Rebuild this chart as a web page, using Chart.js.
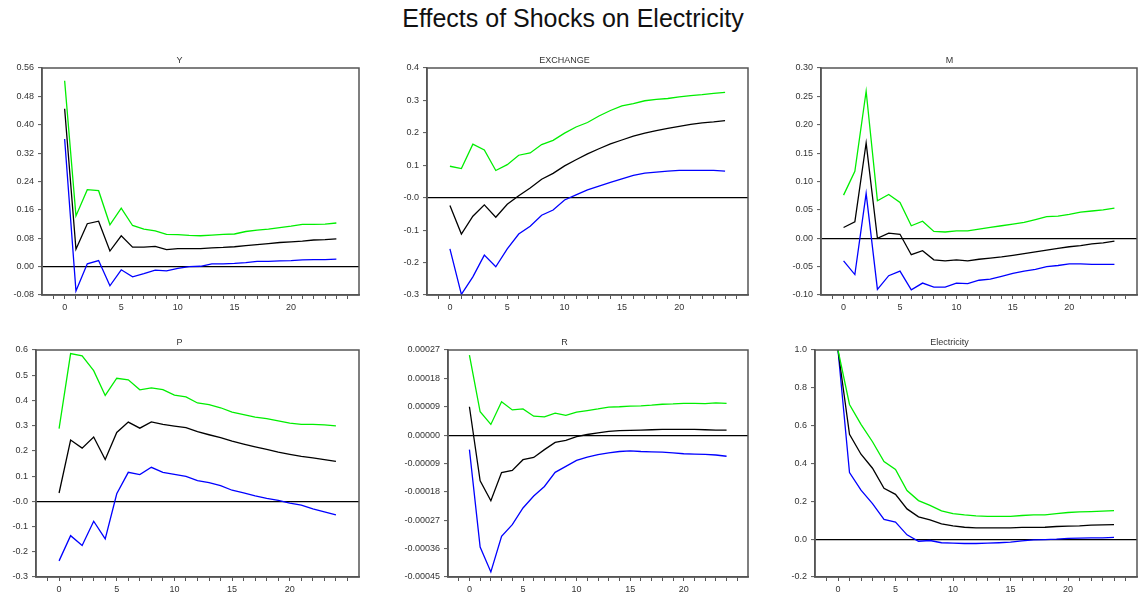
<!DOCTYPE html>
<html>
<head>
<meta charset="utf-8">
<script src="https://cdn.jsdelivr.net/npm/chart.js@4"></script>
<style>
  body { margin: 0; background: #fff; width: 1143px; height: 597px; position: relative; overflow: hidden; }
  #title { position: absolute; left: 0; width: 1146px; top: 6px; line-height: 25px; text-align: center; font-family: "Liberation Sans", Arial, sans-serif; font-size: 25px; color: #111; }
  canvas { position: absolute; }
</style>
</head>
<body>
<div id="title">Effects of Shocks on Electricity</div>
<canvas id="c0" width="361" height="265" style="left:0px;top:50px"></canvas>
<canvas id="c1" width="369" height="265" style="left:381px;top:50px"></canvas>
<canvas id="c2" width="377" height="265" style="left:762px;top:50px"></canvas>
<canvas id="c3" width="361" height="265" style="left:0px;top:332px"></canvas>
<canvas id="c4" width="369" height="265" style="left:381px;top:332px"></canvas>
<canvas id="c5" width="377" height="265" style="left:762px;top:332px"></canvas>
<script>
//? horizon 0..24
const steps = [0,1,2,3,4,5,6,7,8,9,10,11,12,13,14,15,16,17,18,19,20,21,22,23,24]
const xTicks = [-1,0,1,2,3,4,5,6,7,8,9,10,11,12,13,14,15,16,17,18,19,20,21,22,23,24,25]
const xLabels = [0,5,10,15,20]

//? Y
const yUpper = [0.524,0.143,0.217,0.214,0.118,0.165,0.116,0.106,0.101,0.091,0.090,0.088,0.087,0.089,0.091,0.092,0.099,0.103,0.106,0.110,0.114,0.119,0.119,0.120,0.123]
const yMid   = [0.445,0.049,0.121,0.128,0.044,0.087,0.055,0.055,0.057,0.048,0.051,0.051,0.051,0.053,0.054,0.056,0.059,0.062,0.065,0.068,0.070,0.072,0.075,0.076,0.078]
const yLower = [0.360,-0.069,0.008,0.017,-0.054,-0.009,-0.029,-0.020,-0.010,-0.012,-0.005,0.000,0.001,0.008,0.008,0.009,0.011,0.015,0.015,0.016,0.017,0.019,0.020,0.020,0.021]
const yTicks = [-0.08,0,0.08,0.16,0.24,0.32,0.40,0.48,0.56]
const yTickLabels = ['-0.08','0.00','0.08','0.16','0.24','0.32','0.40','0.48','0.56']

//? EXCHANGE
const exUpper = [0.097,0.090,0.165,0.147,0.084,0.102,0.131,0.138,0.164,0.177,0.199,0.218,0.232,0.252,0.269,0.283,0.290,0.299,0.303,0.306,0.311,0.315,0.318,0.322,0.325]
const exMid   = [-0.024,-0.112,-0.057,-0.022,-0.060,-0.020,0.006,0.030,0.057,0.075,0.098,0.117,0.135,0.151,0.166,0.178,0.190,0.199,0.207,0.214,0.220,0.226,0.231,0.234,0.238]
const exLower = [-0.158,-0.298,-0.244,-0.177,-0.213,-0.158,-0.112,-0.088,-0.054,-0.038,-0.007,0.009,0.024,0.036,0.047,0.058,0.069,0.076,0.079,0.082,0.084,0.084,0.084,0.084,0.082]
const exTicks = [-0.3,-0.2,-0.1,0,0.1,0.2,0.3,0.4]
const exTickLabels = ['-0.3','-0.2','-0.1','-0.0','0.1','0.2','0.3','0.4']

//? M
const mUpper = [0.076,0.118,0.259,0.066,0.077,0.063,0.022,0.030,0.012,0.011,0.013,0.013,0.016,0.019,0.022,0.025,0.028,0.033,0.038,0.039,0.042,0.046,0.048,0.050,0.053]
const mMid   = [0.019,0.029,0.168,0.000,0.009,0.007,-0.029,-0.022,-0.038,-0.040,-0.038,-0.040,-0.037,-0.035,-0.033,-0.030,-0.027,-0.024,-0.021,-0.018,-0.015,-0.013,-0.010,-0.008,-0.005]
const mLower = [-0.040,-0.064,0.079,-0.090,-0.066,-0.058,-0.091,-0.079,-0.086,-0.086,-0.079,-0.080,-0.074,-0.072,-0.067,-0.062,-0.058,-0.055,-0.050,-0.048,-0.045,-0.045,-0.046,-0.046,-0.046]
const mTicks = [-0.10,-0.05,0,0.05,0.10,0.15,0.20,0.25,0.30]
const mTickLabels = ['-0.10','-0.05','0.00','0.05','0.10','0.15','0.20','0.25','0.30']

//? P
const pUpper = [0.288,0.586,0.577,0.518,0.420,0.488,0.482,0.442,0.450,0.443,0.421,0.414,0.390,0.383,0.371,0.354,0.344,0.334,0.328,0.319,0.310,0.305,0.305,0.303,0.299]
const pMid   = [0.033,0.243,0.211,0.255,0.166,0.273,0.314,0.290,0.315,0.305,0.298,0.292,0.276,0.264,0.253,0.239,0.227,0.216,0.206,0.195,0.186,0.178,0.172,0.165,0.158]
const pLower = [-0.236,-0.136,-0.175,-0.079,-0.149,0.030,0.115,0.106,0.135,0.115,0.107,0.099,0.082,0.074,0.062,0.044,0.034,0.022,0.012,0.004,-0.007,-0.015,-0.030,-0.042,-0.054]
const pTicks = [-0.3,-0.2,-0.1,0,0.1,0.2,0.3,0.4,0.5,0.6]
const pTickLabels = ['-0.3','-0.2','-0.1','-0.0','0.1','0.2','0.3','0.4','0.5','0.6']

//? R
const rUpper = [0.000254,0.000074,0.000034,0.000106,0.000080,0.000083,0.000060,0.000058,0.000070,0.000063,0.000073,0.000078,0.000083,0.000089,0.000090,0.000092,0.000093,0.000095,0.000098,0.000099,0.000101,0.000101,0.000100,0.000102,0.000101]
const rMid   = [0.000090,-0.000145,-0.000208,-0.000119,-0.000112,-0.000078,-0.000071,-0.000046,-0.000023,-0.000017,-0.000005,0.000002,0.000007,0.000012,0.000014,0.000015,0.000016,0.000017,0.000018,0.000018,0.000018,0.000018,0.000017,0.000016,0.000016]
const rLower = [-0.000046,-0.000355,-0.000434,-0.000321,-0.000284,-0.000231,-0.000193,-0.000163,-0.000118,-0.000099,-0.000080,-0.000070,-0.000062,-0.000056,-0.000052,-0.000050,-0.000052,-0.000053,-0.000054,-0.000056,-0.000059,-0.000060,-0.000061,-0.000063,-0.000067]
const rTicks = [-0.00045,-0.00036,-0.00027,-0.00018,-0.00009,0,0.00009,0.00018,0.00027]
const rTickLabels = ['-0.00045','-0.00036','-0.00027','-0.00018','-0.00009','0.00000','0.00009','0.00018','0.00027']

//? Electricity
const elUpper = [1.0,0.712,0.607,0.515,0.410,0.368,0.257,0.204,0.179,0.150,0.135,0.128,0.123,0.121,0.120,0.121,0.125,0.128,0.128,0.135,0.141,0.144,0.146,0.148,0.151]
const elMid   = [1.0,0.554,0.449,0.375,0.269,0.237,0.160,0.118,0.102,0.081,0.070,0.063,0.060,0.060,0.060,0.060,0.062,0.062,0.063,0.067,0.069,0.070,0.074,0.076,0.077]
const elLower = [1.0,0.352,0.259,0.188,0.104,0.090,0.023,-0.011,-0.007,-0.019,-0.021,-0.023,-0.023,-0.021,-0.019,-0.016,-0.009,-0.004,-0.002,0.000,0.004,0.005,0.007,0.007,0.009]
const elTicks = [-0.2,0,0.2,0.4,0.6,0.8,1.0]
const elTickLabels = ['-0.2','0.0','0.2','0.4','0.6','0.8','1.0']

const panels = [
  { id: 'c0', name: 'Y',           upper: yUpper,  mid: yMid,  lower: yLower,  ticks: yTicks,  labels: yTickLabels,  axisW: 42 },
  { id: 'c1', name: 'EXCHANGE',    upper: exUpper, mid: exMid, lower: exLower, ticks: exTicks, labels: exTickLabels, axisW: 46 },
  { id: 'c2', name: 'M',           upper: mUpper,  mid: mMid,  lower: mLower,  ticks: mTicks,  labels: mTickLabels,  axisW: 59 },
  { id: 'c3', name: 'P',           upper: pUpper,  mid: pMid,  lower: pLower,  ticks: pTicks,  labels: pTickLabels,  axisW: 36 },
  { id: 'c4', name: 'R',           upper: rUpper,  mid: rMid,  lower: rLower,  ticks: rTicks,  labels: rTickLabels,  axisW: 67 },
  { id: 'c5', name: 'Electricity', upper: elUpper, mid: elMid, lower: elLower, ticks: elTicks, labels: elTickLabels, axisW: 53 },
]

const FONT = '"Liberation Sans", Arial, sans-serif'
const FRAME = '#555'

// draws the closed box round the plot area
const boxPlugin = {
  id: 'box',
  afterDatasetsDraw(chart) {
    const a = chart.chartArea
    const c = chart.ctx
    c.save()
    c.strokeStyle = FRAME
    c.lineWidth = 1.5
    c.strokeRect(a.left, a.top, a.right - a.left, a.bottom - a.top)
    c.restore()
  }
}

function toPoints(arr) {
  return steps.map((s, i) => ({ x: s, y: arr[i] }))
}

function line(arr, color) {
  return {
    data: toPoints(arr),
    borderColor: color,
    borderWidth: 1.3,
    pointRadius: 0,
    tension: 0,
    fill: false,
  }
}

for (const p of panels) {
  new Chart(document.getElementById(p.id), {
    type: 'line',
    data: {
      datasets: [
        line(p.upper, '#00ee00'),
        line(p.mid, '#000000'),
        line(p.lower, '#0000ff'),
      ]
    },
    options: {
      responsive: false,
      animation: false,
      layout: { padding: { left: 0, right: 2, top: 0, bottom: 0 } },
      plugins: {
        legend: { display: false },
        tooltip: { enabled: false },
        title: {
          display: true,
          text: p.name,
          color: '#333',
          font: { family: FONT, size: 9, weight: 'normal' },
          padding: { top: 5, bottom: 2.2 },
        },
      },
      scales: {
        x: {
          type: 'linear',
          min: -2,
          max: 26,
          afterBuildTicks: (axis) => { axis.ticks = xTicks.map(v => ({ value: v })) },
          afterFit: (axis) => { axis.height = 20 },
          ticks: {
            autoSkip: false,
            maxRotation: 0,
            padding: 3,
            color: '#333',
            font: { family: FONT, size: 9 },
            callback: (v) => xLabels.includes(v) ? String(v) : '',
          },
          grid: { drawOnChartArea: false, tickColor: FRAME, tickLength: 4, tickWidth: 1 },
          border: { color: FRAME, width: 1.5 },
        },
        y: {
          type: 'linear',
          min: p.ticks[0],
          max: p.ticks[p.ticks.length - 1],
          afterBuildTicks: (axis) => { axis.ticks = p.ticks.map(v => ({ value: v })) },
          afterFit: (axis) => { axis.width = p.axisW },
          ticks: {
            autoSkip: false,
            padding: 4,
            color: '#333',
            font: { family: FONT, size: 9 },
            callback: (v, i) => p.labels[i],
          },
          grid: {
            color: (ctx) => ctx.tick && ctx.tick.value === 0 ? '#000' : 'rgba(0,0,0,0)',
            lineWidth: 1.2,
            tickColor: FRAME,
            tickLength: 4,
            tickWidth: 1,
          },
          border: { color: FRAME, width: 1.5 },
        },
      },
    },
    plugins: [boxPlugin],
  })
}
</script>
</body>
</html>
